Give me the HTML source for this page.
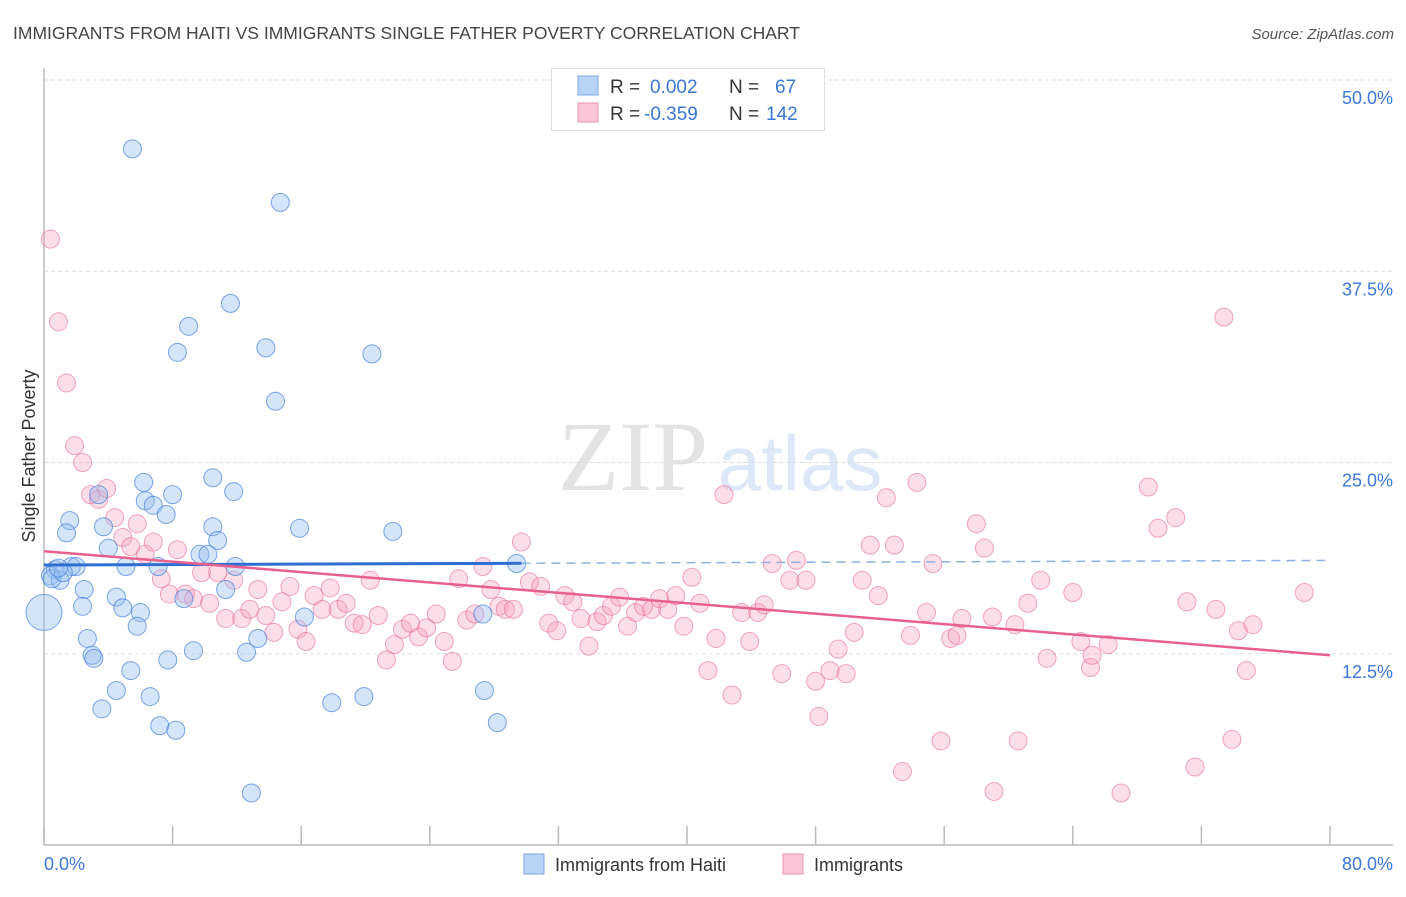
<!DOCTYPE html>
<html><head><meta charset="utf-8"><style>
body{margin:0;background:#fff;font-family:"Liberation Sans",sans-serif;}
svg text{font-family:"Liberation Sans",sans-serif;}
</style></head><body>
<svg id="chart" width="1406" height="892" viewBox="0 0 1406 892">
<text x="13" y="39" font-size="17.5" fill="#444">IMMIGRANTS FROM HAITI VS IMMIGRANTS SINGLE FATHER POVERTY CORRELATION CHART</text>
<text x="1394" y="39" font-size="15" fill="#555" font-style="italic" text-anchor="end">Source: ZipAtlas.com</text>
<g>
<text x="633" y="490" font-size="100" fill="#e3e3e3" font-family="Liberation Serif,serif" text-anchor="middle" style="font-family:'Liberation Serif',serif">ZIP</text>
<text x="800" y="490" font-size="78" fill="#dce8f7" text-anchor="middle">atlas</text>
</g>
<g id="grid"></g>
<g id="axes"></g>
<text x="35" y="456" font-size="18" fill="#333" text-anchor="middle" transform="rotate(-90 35 456)">Single Father Poverty</text>
<g id="pts"></g>
<g id="trends"></g>
<g>
<rect x="551.5" y="68.5" width="273" height="62" fill="#fff" stroke="#ddd"/>
<rect x="578" y="76" width="20" height="19" fill="#b9d3f5" stroke="#7aa7e6"/>
<rect x="578" y="103" width="20" height="19" fill="#f8c6d6" stroke="#eb94b0"/>
<text y="93" font-size="19"><tspan x="610" fill="#333">R = </tspan><tspan x="650" fill="#3b78d8">0.002</tspan><tspan x="729" fill="#333">N = </tspan><tspan x="775" fill="#3b78d8">67</tspan></text>
<text y="120" font-size="19"><tspan x="610" fill="#333">R = </tspan><tspan x="644" fill="#3b78d8">-0.359</tspan><tspan x="729" fill="#333">N = </tspan><tspan x="766" fill="#3b78d8">142</tspan></text>
</g>
<g>
<rect x="524" y="854" width="20" height="20" fill="#b9d3f5" stroke="#7aa7e6"/>
<text x="555" y="871" font-size="18" fill="#333">Immigrants from Haiti</text>
<rect x="783" y="854" width="20" height="20" fill="#f8c6d6" stroke="#eb94b0"/>
<text x="814" y="871" font-size="18" fill="#333">Immigrants</text>
</g>
</svg>
<script>
const xTickValues=[0,8,16,24,32,40,48,56,64,72,80];
const yTickValues=[12.5,25,37.5,50];
const yTickLabels=["12.5%","25.0%","37.5%","50.0%"];
const xEndLabels=["0.0%","80.0%"];
const haitiX=[5.5,14.7,11.6,9.0,8.3,13.8,20.4,14.4,10.5,6.2,3.4,8.0,11.8,6.3,6.8,7.6,1.6,3.7,15.9,21.7,1.4,10.5,10.8,4.0,9.7,10.2,1.7,0.7,0.4,1.0,2.0,5.1,7.1,11.9,29.4,0.5,0.0,2.5,4.5,11.3,8.7,2.4,4.9,6.0,16.2,27.3,5.8,2.7,13.3,12.6,9.3,3.0,3.1,7.7,5.4,4.5,6.6,17.9,19.9,27.4,3.6,7.2,8.2,28.2,12.9,1.2,0.9];
const haitiY=[45.5,42.0,35.4,33.9,32.2,32.5,32.1,29.0,24.0,23.7,22.9,22.9,23.1,22.5,22.2,21.6,21.2,20.8,20.7,20.5,20.4,20.8,19.9,19.4,19.0,19.0,18.2,18.0,17.6,17.3,18.2,18.2,18.2,18.2,18.4,17.4,15.2,16.7,16.2,16.7,16.1,15.6,15.5,15.2,14.9,15.1,14.3,13.5,13.5,12.6,12.7,12.4,12.2,12.1,11.4,10.1,9.7,9.3,9.7,10.1,8.9,7.8,7.5,8.0,3.4,17.8,18.1];
const immX=[0.4,0.9,1.4,1.9,2.4,2.9,3.4,3.9,4.4,4.9,5.4,5.8,6.3,6.8,7.3,7.8,8.3,8.8,9.3,9.8,10.3,10.8,11.3,11.8,12.3,12.8,13.3,13.8,14.3,14.8,15.3,15.8,16.3,16.8,17.3,17.8,18.3,18.8,19.3,19.8,20.3,20.8,21.3,21.8,22.3,22.8,23.3,23.8,24.4,24.9,25.4,25.8,26.3,26.8,27.3,27.8,28.3,28.7,29.2,29.7,30.2,30.9,31.4,31.9,32.4,32.9,33.4,33.9,34.4,34.8,35.3,35.8,36.3,36.8,37.3,37.8,38.3,38.8,39.3,39.8,40.3,40.8,41.3,41.8,42.3,42.8,43.4,43.9,44.4,44.8,45.3,45.9,46.4,46.8,47.4,48.0,48.2,48.9,49.4,49.9,50.4,50.9,51.4,51.9,52.4,52.9,53.4,53.9,54.3,54.9,55.3,55.8,56.4,56.8,57.1,58.0,58.5,59.1,59.0,60.6,60.4,61.2,62.0,62.4,64.0,64.5,65.1,65.2,66.2,67.0,68.7,69.3,70.4,71.6,71.1,72.9,73.4,73.9,74.3,74.8,75.2,78.4];
const immY=[39.6,34.2,30.2,26.1,25.0,22.9,22.6,23.3,21.4,20.1,19.5,21.0,19.0,19.8,17.4,16.4,19.3,16.4,16.1,17.8,15.8,17.8,14.8,17.3,14.8,15.4,16.7,15.0,13.9,15.9,16.9,14.1,13.3,16.3,15.4,16.8,15.4,15.8,14.5,14.4,17.3,15.0,12.1,13.1,14.1,14.5,13.6,14.2,15.1,13.3,12.0,17.4,14.7,15.1,18.2,16.7,15.6,15.4,15.4,19.8,17.2,16.9,14.5,14.0,16.3,15.9,14.8,13.0,14.6,15.0,15.6,16.2,14.3,15.2,15.6,15.4,16.1,15.4,16.3,14.3,17.5,15.8,11.4,13.5,22.9,9.8,15.2,13.3,15.2,15.7,18.4,11.2,17.3,18.6,17.3,10.7,8.4,11.4,12.8,11.2,13.9,17.3,19.6,16.3,22.7,19.6,4.8,13.7,23.7,15.2,18.4,6.8,13.5,13.7,14.8,21.0,19.4,3.5,14.9,6.8,14.4,15.8,17.3,12.2,16.5,13.3,11.6,12.4,13.1,3.4,23.4,20.7,21.4,5.1,15.9,15.4,34.5,6.9,14.0,11.4,14.4,16.5];
const haitiTrendY=[18.3,18.6];
const immTrendY=[19.2,12.4];
const trendX=[0,80];
const haitiSolidEnd=29.7;

const X0=44,X1=1330,Y0=845,Y1=80;
const sx=v=>X0+(v/80)*(X1-X0);
const sy=v=>Y0-(v/50)*(Y0-Y1);
const NS="http://www.w3.org/2000/svg";
function mk(tag,attrs,parent){const e=document.createElementNS(NS,tag);for(const k in attrs)e.setAttribute(k,attrs[k]);parent.appendChild(e);return e;}
const grid=document.getElementById('grid'),axes=document.getElementById('axes'),svg=document.getElementById('chart');
yTickValues.forEach((v,i)=>{
 const l=mk('line',{x1:X0,x2:1393,y1:sy(v),y2:sy(v),stroke:'#ddd','stroke-dasharray':'4,3'},grid);
 
 
 const t=mk('text',{x:1393,y:sy(v)+24,'font-size':18,fill:'#3b78d8','text-anchor':'end'},axes);
 t.textContent=yTickLabels[i];
 
 
});
const ax=mk('line',{x1:X0,x2:1393,y1:Y0,y2:Y0,stroke:'#bbb','stroke-width':1.5},axes);


const ay=mk('line',{x1:X0,x2:X0,y1:68,y2:Y0,stroke:'#bbb','stroke-width':1.5},axes);


xTickValues.forEach(v=>{
 const t=mk('line',{x1:sx(v),x2:sx(v),y1:826,y2:Y0,stroke:'#bbb','stroke-width':1.5},axes);
 
 
});
const xl0=mk('text',{x:X0,y:870,'font-size':18,fill:'#3b78d8'},axes);
xl0.textContent=xEndLabels[0];


const xl1=mk('text',{x:1393,y:870,'font-size':18,fill:'#3b78d8','text-anchor':'end'},axes);
xl1.textContent=xEndLabels[1];


const pts=document.getElementById('pts');


immX.forEach((x,i)=>{
 const c=mk('circle',{cx:sx(x),cy:sy(immY[i]),r:9,fill:'rgba(245,160,190,0.35)',stroke:'rgba(230,110,150,0.6)','stroke-width':1},pts);
 
 
});
haitiX.forEach((x,i)=>{
 const big=(x===0);
 const c=mk('circle',{cx:sx(x),cy:sy(haitiY[i]),r:big?18:9,fill:'rgba(150,190,240,0.4)',stroke:'rgba(70,130,220,0.7)','stroke-width':1},pts);
 
 
});
const tr=document.getElementById('trends');


const hy=v=>haitiTrendY[0]+(haitiTrendY[1]-haitiTrendY[0])*(v-trendX[0])/(trendX[1]-trendX[0]);
const hd=mk('line',{x1:sx(haitiSolidEnd),y1:sy(hy(haitiSolidEnd)),x2:sx(trendX[1]),y2:sy(hy(trendX[1])),stroke:'#8fb0e0','stroke-width':1.5,'stroke-dasharray':'9,6'},tr);


const hs=mk('line',{x1:sx(trendX[0]),y1:sy(hy(trendX[0])),x2:sx(haitiSolidEnd),y2:sy(hy(haitiSolidEnd)),stroke:'#2f6fd0','stroke-width':3},tr);


const it=mk('line',{x1:sx(trendX[0]),y1:sy(immTrendY[0]),x2:sx(trendX[1]),y2:sy(immTrendY[1]),stroke:'#e8608e','stroke-width':2.5},tr);


</script>
</body></html>
